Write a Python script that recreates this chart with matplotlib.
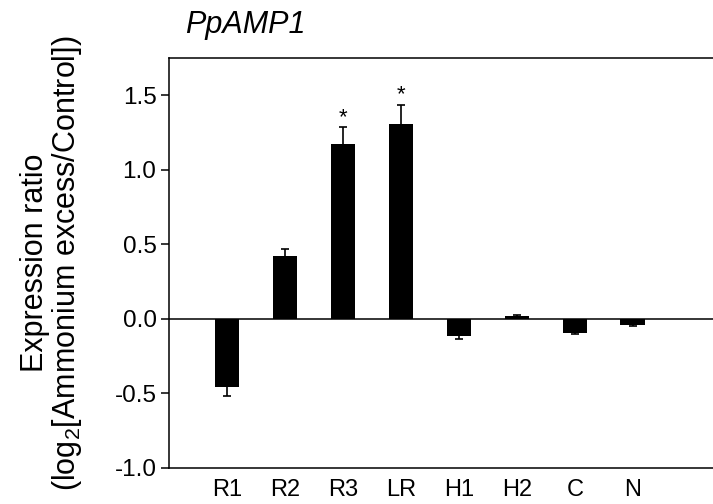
import matplotlib
matplotlib.use("Agg")
import matplotlib.pyplot as plt
import numpy as np

plt.rcParams["font.family"] = ["Liberation Sans", "DejaVu Sans"]
plt.rcParams["mathtext.fontset"] = "custom"
plt.rcParams["mathtext.rm"] = "Liberation Sans"
plt.rcParams["mathtext.it"] = "Liberation Sans:italic"

tissues = ["R1", "R2", "R3", "LR", "H1", "H2", "C", "N"]
ratio = [-0.455, 0.425, 1.175, 1.31, -0.115, 0.02, -0.095, -0.04]
sem = [0.065, 0.045, 0.11, 0.125, 0.02, 0.008, 0.008, 0.006]
signif = ["", "", "*", "*", "", "", "", ""]

fig = plt.figure(figsize=(7.13, 5.04), dpi=100)
ax = fig.add_axes([169 / 713, 36 / 504, 544 / 713, 410 / 504])

x = np.arange(len(tissues))
ax.bar(x, ratio, width=0.43, color="black", zorder=2)
# one-sided error bars, pointing away from zero
cap = 0.075
for xi, v, e, s in zip(x, ratio, sem, signif):
    end = v + e if v >= 0 else v - e
    ax.vlines(xi, v, end, color="black", lw=1.2, zorder=3)
    ax.hlines(end, xi - cap, xi + cap, color="black", lw=1.2, zorder=3)
    if s:
        ax.text(xi, end + 0.03, s, ha="center", va="baseline", fontsize=16)

ax.axhline(0, color="black", lw=1.1, zorder=1)
ax.set_xlim(-1.0, 8.38)
ax.set_ylim(-1.0, 1.75)
ax.set_yticks([-1.0, -0.5, 0.0, 0.5, 1.0, 1.5])
ax.set_yticklabels(["-1.0", "-0.5", "0.0", "0.5", "1.0", "1.5"])
ax.set_xticks(x)
ax.set_xticklabels(tissues)
ax.tick_params(axis="y", direction="out", length=6, width=1.1, labelsize=17.5, pad=3)
ax.tick_params(axis="x", length=0, labelsize=17, pad=8)
ax.spines["right"].set_visible(False)
for sp in ["left", "top", "bottom"]:
    ax.spines[sp].set_linewidth(1.1)

ax.set_ylabel("Expression ratio\n(log$_2$[Ammonium excess/Control])", fontsize=22,
              linespacing=1.0, labelpad=22)
fig.text(185 / 713, 1 - 25 / 504, "PpAMP1", style="italic", fontsize=22, ha="left", va="center")

fig.savefig("out.png", dpi=100)
